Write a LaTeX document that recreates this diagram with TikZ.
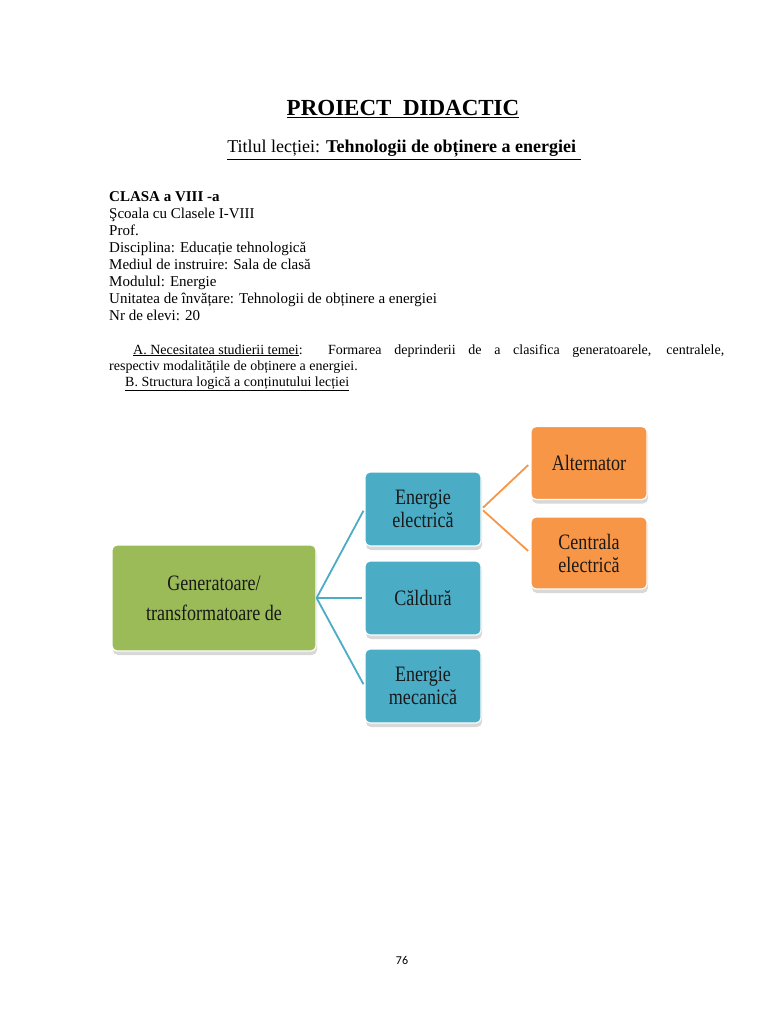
\documentclass[tikz,border=0pt]{standalone}
\usepackage{fontspec}
\setmainfont{Liberation Serif}
\newfontfamily\boxfont[FakeStretch=0.82]{Liberation Serif}
\newfontfamily\pagefont{Carlito}
\usetikzlibrary{positioning, shadows}
\definecolor{verde}{HTML}{9BBB59}
\definecolor{albastru}{HTML}{4BACC6}
\definecolor{portocaliu}{HTML}{F79646}

\begin{document}
\begin{tikzpicture}[
    x=1pt, y=-1pt,
    txt/.style={inner sep=0pt, anchor=base west, align=left},
    box/.style={rectangle, rounded corners=5pt, draw=white, line width=1.2pt,
        minimum width=116pt, minimum height=74pt, align=center, text=black!90,
        font=\boxfont\fontsize{22}{23}\selectfont,
        drop shadow={shadow xshift=1pt, shadow yshift=-4pt, fill=black!30}},
    bluelink/.style={draw=albastru, line width=1.8pt, shorten >=2pt},
    orangelink/.style={draw=portocaliu, line width=1.8pt, shorten <=2pt, shorten >=3pt}
]
\useasboundingbox[fill=white] (0,0) rectangle (768,1024);

% antet
\node[inner sep=0pt, anchor=base, font=\fontsize{23}{26}\selectfont\bfseries] (titlu) at (403,116) {\underline{PROIECT\ \ DIDACTIC}};
\node[inner sep=0pt, anchor=base, font=\fontsize{18}{20}\selectfont] (lectie) at (404,153)
    {\underline{Titlul lecției: \textbf{Tehnologii de obținere a energiei\ }}};

% date generale (ancora pe ultimul rand)
\node[txt, font=\fontsize{15}{17}\selectfont] (date) at (109,320)
    {\textbf{CLASA a VIII -a}\\
     Şcoala cu Clasele I-VIII\\
     Prof.\\
     Disciplina: Educație tehnologică\\
     Mediul de instruire: Sala de clasă\\
     Modulul: Energie\\
     Unitatea de învățare: Tehnologii de obținere a energiei\\
     Nr de elevi: 20};

% necesitatea si structura
\node[txt, font=\fontsize{14}{16}\selectfont] (necesitate) at (133,354)
    {\makebox[591pt][s]{\underline{A. Necesitatea studierii temei}:\ \ Formarea deprinderii de a clasifica generatoarele, centralele,}};
\node[txt, font=\fontsize{14}{16}\selectfont] (necesitate2) at (109,370) {respectiv modalitățile de obținere a energiei.};
\node[txt, font=\fontsize{14}{16}\selectfont] (structura) at (125,386) {\underline{B. Structura logică a conținutului lecției}};

% schema
\node[box, fill=verde, minimum width=204pt, minimum height=106pt, font=\boxfont\fontsize{22}{30}\selectfont] (gen) at (214,598) {Generatoare/\\transformatoare de};
\node[box, fill=albastru] (electrica) at (423,509) {Energie\\electrică};
\node[box, fill=albastru] (caldura) at (423,598) {Căldură};
\node[box, fill=albastru] (mecanica) at (423,686) {Energie\\mecanică};
\node[box, fill=portocaliu, minimum height=73pt] (alternator) at (589,463) {Alternator};
\node[box, fill=portocaliu, minimum height=72pt] (centrala) at (589,553) {Centrala\\electrică};

\draw[bluelink] (gen.east) -- (electrica.west);
\draw[bluelink] (gen.east) -- (caldura.west);
\draw[bluelink] (gen.east) -- (mecanica.west);
\draw[orangelink] (electrica.east) -- (alternator.west);
\draw[orangelink] (electrica.east) -- (centrala.west);

% numar pagina
\node[inner sep=0pt, anchor=base, font=\pagefont\fontsize{12}{14}\selectfont] (pagina) at (402,964) {76};
\end{tikzpicture}
\end{document}
